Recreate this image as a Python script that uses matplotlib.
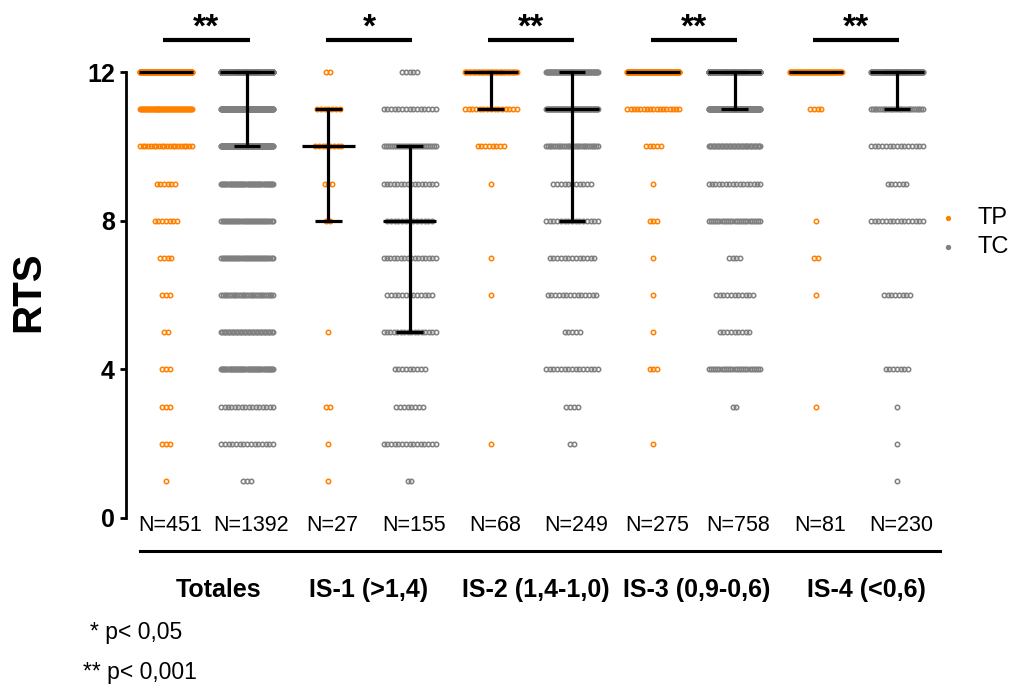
import numpy as np
import matplotlib
matplotlib.use('Agg')
import matplotlib.pyplot as plt
from matplotlib.lines import Line2D

plt.rcParams['font.family'] = ['Liberation Sans', 'DejaVu Sans']

# RTS levels 1..12, dot counts per column
levels = np.arange(1, 13)
columns = ['Totales TP', 'Totales TC', 'IS-1 TP', 'IS-1 TC', 'IS-2 TP',
           'IS-2 TC', 'IS-3 TP', 'IS-3 TC', 'IS-4 TP', 'IS-4 TC']
totales_tp = [1, 3, 3, 3, 2, 3, 4, 7, 6, 20, 54, 345]
totales_tc = [3, 15, 16, 50, 40, 30, 35, 35, 50, 150, 200, 768]
is1_tp = [1, 1, 2, 0, 1, 0, 0, 2, 3, 8, 7, 2]
is1_tc = [2, 15, 8, 9, 16, 13, 16, 13, 16, 27, 15, 5]
is2_tp = [0, 1, 0, 0, 0, 1, 1, 0, 1, 8, 15, 41]
is2_tc = [0, 2, 4, 15, 5, 14, 13, 15, 11, 30, 70, 70]
is3_tp = [0, 1, 0, 3, 1, 1, 1, 3, 1, 5, 17, 242]
is3_tc = [0, 0, 2, 25, 9, 11, 4, 25, 16, 40, 150, 476]
is4_tp = [0, 0, 1, 0, 0, 1, 2, 1, 0, 0, 4, 72]
is4_tc = [1, 1, 1, 7, 0, 8, 0, 15, 6, 15, 30, 146]
counts = [totales_tp, totales_tc, is1_tp, is1_tc, is2_tp,
          is2_tc, is3_tp, is3_tc, is4_tp, is4_tc]

n_labels = ['N=451', 'N=1392', 'N=27', 'N=155', 'N=68',
            'N=249', 'N=275', 'N=758', 'N=81', 'N=230']
medians = [12, 12, 10, 8, 12, 11, 12, 12, 12, 12]
q1 = [12, 10, 8, 5, 11, 8, 12, 11, 12, 11]
q3 = [12, 12, 11, 10, 12, 12, 12, 12, 12, 12]

groups = ['Totales', 'IS-1 (>1,4)', 'IS-2 (1,4-1,0)', 'IS-3 (0,9-0,6)', 'IS-4 (<0,6)']
signif = ['**', '*', '**', '**', '**']

orange = '#FF8000'
grey = '#808080'

fig = plt.figure(figsize=(10.19, 6.86), dpi=100)
ax = fig.add_axes([0.1237, 0.2449, 0.7988, 0.6501])

x = np.arange(len(columns))
for i, col in enumerate(counts):
    color = orange if i % 2 == 0 else grey
    for lev, n in zip(levels, col):
        if n == 0:
            continue
        step = 0.046 if n == 1 else min(0.046, 0.64 / (n - 1))
        xs = x[i] + (np.arange(n) - (n - 1) / 2) * step
        ax.plot(xs, np.full(n, lev), 'o', ms=3.2, mfc='none', mec=color,
                mew=1.1, clip_on=False, zorder=2)

# median with interquartile range
for i in range(len(columns)):
    ax.plot([x[i] - 0.33, x[i] + 0.33], [medians[i]] * 2, color='black',
            lw=2.3, solid_capstyle='butt', clip_on=False, zorder=4)
    if q1[i] < q3[i]:
        ax.plot([x[i], x[i]], [q1[i], q3[i]], color='black', lw=2.3,
                clip_on=False, zorder=4)
        for q in (q1[i], q3[i]):
            ax.plot([x[i] - 0.165, x[i] + 0.165], [q, q], color='black',
                    lw=2.3, solid_capstyle='butt', clip_on=False, zorder=4)

# significance bars
for g, s in enumerate(signif):
    x0, x1 = x[2 * g], x[2 * g + 1]
    ax.plot([x0 - 0.03, x1 + 0.03], [12.87, 12.87], color='black', lw=3,
            solid_capstyle='butt', clip_on=False)
    ax.text((x0 + x1) / 2, 12.95, s, ha='center', va='baseline',
            fontsize=24, fontweight='bold', clip_on=False)

# N labels, separator and group names
for i, lab in enumerate(n_labels):
    ax.text(x[i] + 0.05, -0.19, lab, ha='center', va='center', fontsize=15.5)
ax.plot([-0.32, 9.53], [-0.89, -0.89], color='black', lw=2.2, clip_on=False)
label_dx = [0.15, -0.01, 0.06, 0.04, 0.13]
for g, name in enumerate(groups):
    ax.text((x[2 * g] + x[2 * g + 1]) / 2 + label_dx[g], -1.94, name,
            ha='center', va='center', fontsize=18, fontweight='bold')

ax.set_xlim(-0.49, 9.53)
ax.set_ylim(0, 12)
ax.set_yticks([0, 4, 8, 12])
ax.set_xticks([])
for side in ('top', 'right', 'bottom'):
    ax.spines[side].set_visible(False)
ax.spines['left'].set_linewidth(2)
ax.tick_params(axis='y', direction='out', length=4, width=2, pad=4,
               labelsize=18)
for t in ax.get_yticklabels():
    t.set_fontweight('bold')
fig.text(28 / 1019, 1 - 292 / 686, 'RTS', rotation=90, ha='center',
         va='center', fontsize=29, fontweight='bold')

# legend
for yy, color, lab in [(1 - 217.7 / 686, orange, 'TP'), (1 - 246.7 / 686, grey, 'TC')]:
    fig.add_artist(Line2D([947.7 / 1019], [yy], marker='o', ms=2.8,
                          color=color, lw=0, transform=fig.transFigure))
    fig.text(977 / 1019, yy, lab, ha='left', va='center', fontsize=17)

fig.text(90 / 1019, 1 - 633 / 686, '* p< 0,05', ha='left', va='center', fontsize=16.5)
fig.text(83 / 1019, 1 - 672 / 686, '** p< 0,001', ha='left', va='center', fontsize=16.5)

fig.savefig('out.png', dpi=100)
